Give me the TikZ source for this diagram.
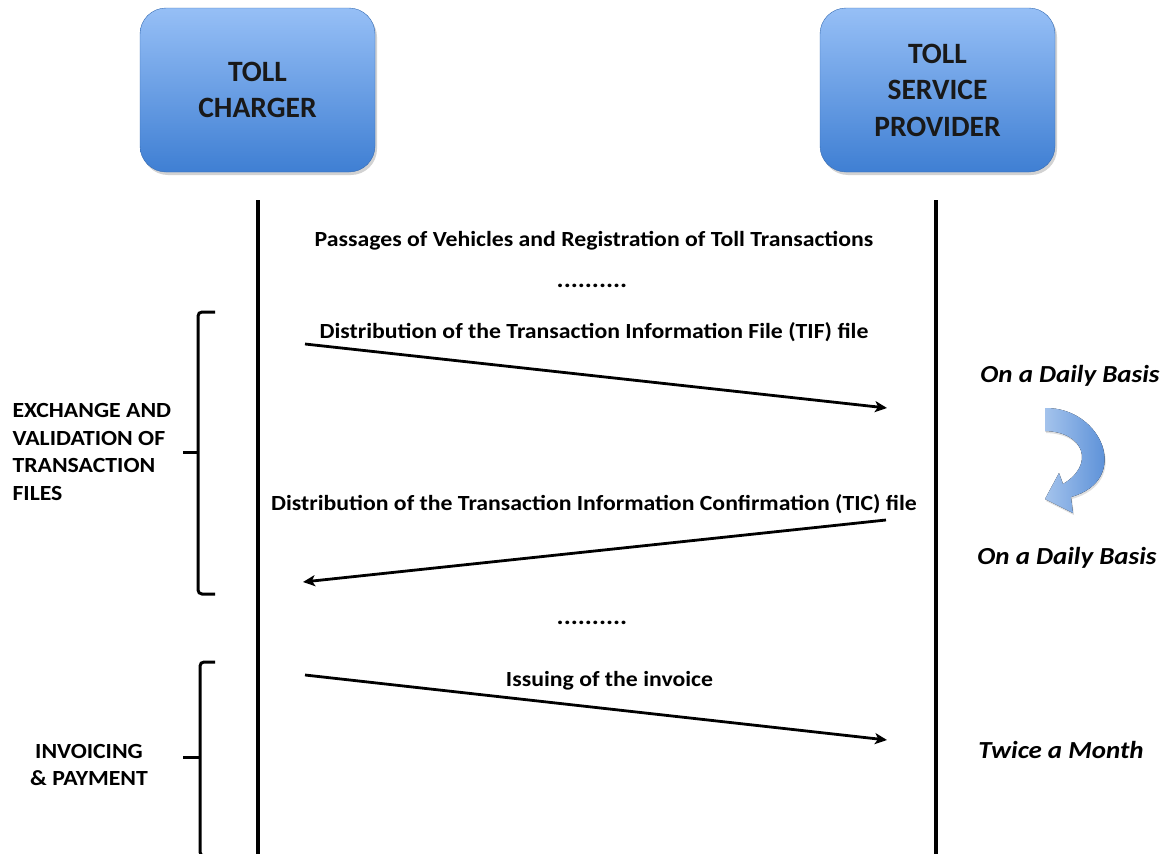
\documentclass[tikz,border=0pt]{standalone}
\usepackage{fontspec}
\setmainfont{Carlito}
\newfontfamily\widefont[FakeStretch=1.1]{Carlito}
\usetikzlibrary{arrows.meta,shadows}
\definecolor{boxtop}{HTML}{96BFF6}
\definecolor{boxbot}{HTML}{3F7FD3}
\definecolor{arrtop}{HTML}{A4C3EC}
\definecolor{arrbot}{HTML}{3E7CD0}
\tikzset{
  actor/.style={rounded corners=26pt, minimum width=235pt, minimum height=164pt,
    top color=boxtop, bottom color=boxbot, draw=boxbot!85!black, line width=0.4pt,
    drop shadow={shadow xshift=2pt, shadow yshift=-3pt, opacity=0.35},
    align=center, font=\fontsize{29.5}{36.5}\selectfont\bfseries, text=black!90},
  life/.style={line width=3.3pt, black},
  msg/.style={line width=2.8pt, -{Stealth[length=12pt,width=11pt,inset=3pt]}},
  msglabel/.style={font=\widefont\fontsize{21.6}{25}\selectfont\bfseries, anchor=base},
  dots/.style={font=\widefont\fontsize{24}{25}\selectfont\bfseries, anchor=base},
  phase/.style={font=\widefont\fontsize{21.6}{27.7}\selectfont\bfseries},
  freq/.style={font=\widefont\fontsize{24.5}{28}\selectfont\bfseries\itshape, anchor=base},
  brace/.style={line width=3pt, rounded corners=4pt},
}
\begin{document}
\begin{tikzpicture}[x=1pt,y=-1pt]
\useasboundingbox (0,0) rectangle (1168,854);
\fill[white] (0,0) rectangle (1168,854);
% actors
\node[actor] (tc) at (257.5,90) {TOLL\\CHARGER};
\node[actor] (tsp) at (937.5,90) {TOLL\\SERVICE\\PROVIDER};
% lifelines
\coordinate (tcA) at (258,200); \coordinate (tcB) at (258,854);
\coordinate (tsA) at (936,200); \coordinate (tsB) at (936,854);
\draw[life] (tcA) -- (tcB);
\draw[life] (tsA) -- (tsB);
% texts
\node[msglabel] (pass) at (594,246) {Passages of Vehicles and Registration of Toll Transactions};
\node[dots] (d1) at (592,287) {..........};
\node[dots] (d2) at (592,624) {..........};
% messages
\coordinate (m1a) at (305,344); \coordinate (m1b) at (887,408);
\draw[msg] (m1a) -- (m1b);
\node[msglabel] (l1) at (594,338) {Distribution of the Transaction Information File (TIF) file};
\coordinate (m2a) at (886,520); \coordinate (m2b) at (303,582);
\draw[msg] (m2a) -- (m2b);
\node[msglabel] (l2) at (594,510) {Distribution of the Transaction Information Confirmation (TIC) file};
\coordinate (m3a) at (305,675); \coordinate (m3b) at (887,740);
\draw[msg] (m3a) -- (m3b);
\node[msglabel] (l3) at (609.5,686) {Issuing of the invoice};
% brackets
\draw[brace] (215,312) -- (198,312) -- (198,594) -- (215,594);
\draw[line width=3pt] (198,452) -- (183,452);
\draw[brace] (215,662) -- (200,662) -- (200,856) -- (215,856);
\draw[line width=3pt] (200,757) -- (183,757);
% phase labels
\node[phase, align=left, anchor=west] (ph1) at (9,452) {EXCHANGE AND\\VALIDATION OF\\TRANSACTION\\FILES};
\node[phase, align=center] (ph2) at (89,765) {INVOICING\\\& PAYMENT};
% frequency labels
\node[freq] (f1) at (1070,382) {On a Daily Basis};
\node[freq] (f2) at (1067,564) {On a Daily Basis};
\node[freq] (f3) at (1061,758) {Twice a Month};
% curved arrow
\fill[left color=arrtop, right color=arrbot, drop shadow={shadow xshift=1pt, shadow yshift=-2pt, opacity=0.25}]
  (1045,408) .. controls (1102,407) and (1132,480) .. (1071,497)
  -- (1073,513) -- (1045,499) -- (1059,473) -- (1063,484)
  .. controls (1095,465) and (1085,432) .. (1045,431) -- cycle;
\end{tikzpicture}
\end{document}
